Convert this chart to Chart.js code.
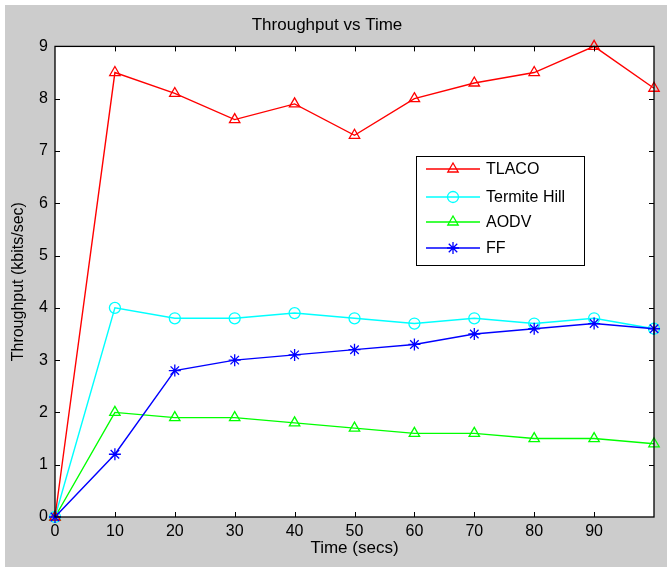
<!DOCTYPE html>
<html>
<head>
<meta charset="utf-8">
<script src="https://cdn.jsdelivr.net/npm/chart.js@4/dist/chart.umd.min.js"></script>
<style>
html,body{margin:0;padding:0;background:#fff;}
canvas{display:block;}
</style>
</head>
<body>
<canvas id="c" width="667" height="567"></canvas>
<script>
const timeSecs = [0, 10, 20, 30, 40, 50, 60, 70, 80, 90, 100];
const tlaco = [0, 8.5, 8.1, 7.6, 7.9, 7.3, 8.0, 8.3, 8.5, 9.0, 8.2];
const termiteHill = [0, 4.0, 3.8, 3.8, 3.9, 3.8, 3.7, 3.8, 3.7, 3.8, 3.6];
const aodv = [0, 2.0, 1.9, 1.9, 1.8, 1.7, 1.6, 1.6, 1.5, 1.5, 1.4];
const ff = [0, 1.2, 2.8, 3.0, 3.1, 3.2, 3.3, 3.5, 3.6, 3.7, 3.6];
const seriesNames = ['TLACO', 'Termite Hill', 'AODV', 'FF'];
const xTicks = [0, 10, 20, 30, 40, 50, 60, 70, 80, 90];
const yTicks = [0, 1, 2, 3, 4, 5, 6, 7, 8, 9];

const FONT = '"Liberation Sans", Arial, sans-serif';
const toXY = arr => arr.map((v, i) => ({x: timeSecs[i], y: v}));

function ds(label, data, color, style, radius, order) {
  return {
    label, data: toXY(data), borderColor: color, backgroundColor: 'rgba(0,0,0,0)',
    pointBorderColor: color, pointBackgroundColor: 'rgba(0,0,0,0)',
    pointStyle: style, pointRadius: radius, pointBorderWidth: 1.3,
    borderWidth: 1.4, tension: 0, clip: false, order
  };
}

const bgPlugin = {
  id: 'bg',
  beforeDraw(chart) {
    const ctx = chart.ctx, a = chart.chartArea;
    ctx.save();
    ctx.fillStyle = '#ffffff';
    ctx.fillRect(0, 0, chart.width, chart.height);
    ctx.fillStyle = '#cccccc';
    ctx.fillRect(5, 5, chart.width - 5, chart.height - 5);
    ctx.fillStyle = '#ffffff';
    ctx.fillRect(a.left, a.top, a.right - a.left, a.bottom - a.top);
    ctx.restore();
  },
  afterDatasetsDraw(chart) {
    const ctx = chart.ctx, a = chart.chartArea;
    const xs = chart.scales.x, ys = chart.scales.y;
    ctx.save();
    ctx.strokeStyle = '#000';
    ctx.lineWidth = 1;
    ctx.beginPath();
    const L = 5;
    xTicks.forEach(v => {
      if (v === 0) return;
      const px = Math.round(xs.getPixelForValue(v)) + 0.5;
      ctx.moveTo(px, a.bottom); ctx.lineTo(px, a.bottom - L);
      ctx.moveTo(px, a.top); ctx.lineTo(px, a.top + L);
    });
    yTicks.forEach(v => {
      if (v === 0 || v === 9) return;
      const py = Math.round(ys.getPixelForValue(v)) + 0.5;
      ctx.moveTo(a.left, py); ctx.lineTo(a.left + L, py);
      ctx.moveTo(a.right, py); ctx.lineTo(a.right - L, py);
    });
    ctx.stroke();
    ctx.lineWidth = 1.3;
    ctx.strokeRect(a.left, a.top, a.right - a.left, a.bottom - a.top);
    ctx.restore();
  }
};

const legendPlugin = {
  id: 'boxLegend',
  afterDraw(chart) {
    const ctx = chart.ctx;
    const x0 = 416, y0 = 156, w = 168, h = 109;
    ctx.save();
    ctx.fillStyle = '#fff';
    ctx.fillRect(x0, y0, w, h);
    ctx.strokeStyle = '#000';
    ctx.lineWidth = 1;
    ctx.strokeRect(x0 + 0.5, y0 + 0.5, w, h);
    const rows = [169, 197, 222, 248];
    chart.data.datasets.forEach((d, i) => {
      const y = rows[i];
      ctx.strokeStyle = d.borderColor;
      ctx.lineWidth = 1.4;
      ctx.beginPath();
      ctx.moveTo(426, y); ctx.lineTo(480, y);
      ctx.stroke();
      ctx.fillStyle = 'rgba(0,0,0,0)';
      ctx.strokeStyle = d.borderColor;
      ctx.lineWidth = d.pointBorderWidth;
      Chart.helpers.drawPoint(ctx, {
        pointStyle: d.pointStyle, radius: d.pointRadius, borderWidth: d.pointBorderWidth, rotation: 0
      }, 453, y);
      ctx.fillStyle = '#000';
      ctx.font = '16px ' + FONT;
      ctx.textBaseline = 'middle';
      ctx.textAlign = 'left';
      ctx.fillText(d.label, 486, y + 1);
    });
    ctx.restore();
  }
};

new Chart(document.getElementById('c'), {
  type: 'line',
  data: {
    datasets: [
      ds(seriesNames[0], tlaco, '#ff0000', 'triangle', 6, 1),
      ds(seriesNames[1], termiteHill, '#00ffff', 'circle', 5.5, 2),
      ds(seriesNames[2], aodv, '#00ff00', 'triangle', 6, 3),
      ds(seriesNames[3], ff, '#0000ff', 'star', 6, 0)
    ]
  },
  options: {
    responsive: false,
    devicePixelRatio: 1,
    animation: false,
    layout: {padding: {left: 0, right: 13, top: 0, bottom: 0}},
    plugins: {
      legend: {display: false},
      tooltip: {enabled: false},
      title: {
        display: true, text: 'Throughput vs Time', color: '#000',
        font: {family: FONT, size: 17, weight: 'normal'},
        padding: {top: 15, bottom: 11}
      }
    },
    scales: {
      x: {
        type: 'linear', min: 0, max: 100,
        afterFit(s) { s.height = 50; },
        afterBuildTicks(s) { s.ticks = timeSecs.map(v => ({value: v})); },
        grid: {display: true, drawOnChartArea: false, drawTicks: false},
        border: {display: false},
        ticks: {
          color: '#000', padding: 5, maxRotation: 0, autoSkip: false,
          font: {family: FONT, size: 16},
          callback: v => xTicks.includes(v) ? String(v) : ''
        },
        title: {display: true, text: 'Time (secs)', color: '#000',
          font: {family: FONT, size: 17}, padding: {top: 0, bottom: 8}}
      },
      y: {
        type: 'linear', min: 0, max: 9,
        afterFit(s) { s.width = 55; },
        afterBuildTicks(s) { s.ticks = yTicks.map(v => ({value: v})); },
        grid: {display: true, drawOnChartArea: false, drawTicks: false},
        border: {display: false},
        ticks: {
          color: '#000', padding: 7, autoSkip: false,
          font: {family: FONT, size: 16},
          callback: v => String(v)
        },
        title: {display: true, text: 'Throughput (kbits/sec)', color: '#000',
          font: {family: FONT, size: 16}, padding: {top: 9, bottom: 0}}
      }
    }
  },
  plugins: [bgPlugin, legendPlugin]
});
</script>
</body>
</html>
